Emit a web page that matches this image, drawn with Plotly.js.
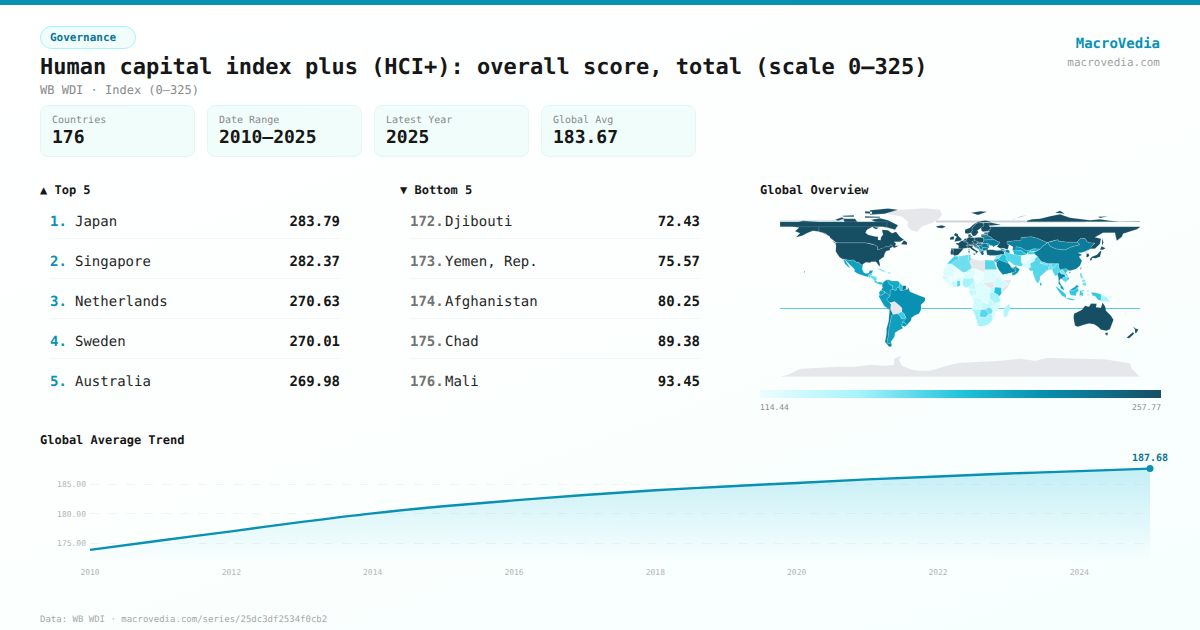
<!DOCTYPE html>
<html><head><meta charset="utf-8">
<script src="https://cdn.plot.ly/plotly-3.0.1.min.js"></script>
<style>
html,body{margin:0;padding:0}
body{width:1200px;height:630px;overflow:hidden;position:relative;font-family:'DejaVu Sans Mono',monospace;color:#171717;background:linear-gradient(160deg,#ffffff 0%,#fcfffe 50%,#f6fefe 100%);text-rendering:geometricPrecision}
.a{position:absolute;white-space:pre;line-height:1}
.card{position:absolute;top:105px;width:153px;height:50px;background:#f0fdfb;border:1px solid #e6f6f4;border-radius:8px}
.rule{position:absolute;height:1px;background:#f3f6f6}
</style></head><body>
<div class="a" style="left:0;top:0;width:1200px;height:5px;background:#0891b2"></div>
<div class="a" style="left:40px;top:26px;width:94px;height:21px;border:1px solid #a5f3fc;border-radius:12px;background:#f0fdfb"></div>
<div class="a" style="left:50px;top:32px;font-size:11px;font-weight:bold;color:#0e7490">Governance</div>
<div class="a" id="title" style="left:40px;top:57px;font-size:22px;font-weight:bold"></div>
<div class="a" id="sub" style="left:40px;top:84px;font-size:12px;color:#8a8a8a"></div>
<div class="a" style="right:40px;top:37px;font-size:14px;font-weight:bold;color:#0891b2">MacroVedia</div>
<div class="a" style="right:40px;top:57px;font-size:11px;color:#a3a3a3">macrovedia.com</div>
<div id="cards"></div>
<div class="a" style="left:40px;top:184px;font-size:12px;font-weight:bold">▲ Top 5</div>
<div class="a" style="left:400px;top:184px;font-size:12px;font-weight:bold">▼ Bottom 5</div>
<div id="rows"></div>
<div class="a" style="left:760px;top:184px;font-size:12px;font-weight:bold">Global Overview</div>
<div id="map" class="a" style="left:760px;top:200px;width:401px;height:200px"></div>
<div class="a" id="cmin" style="left:760px;top:404px;font-size:8px;color:#8a8a8a"></div>
<div class="a" id="cmax" style="right:39px;top:404px;font-size:8px;color:#8a8a8a"></div>
<div class="a" style="left:40px;top:434px;font-size:12px;font-weight:bold">Global Average Trend</div>
<div id="trend" class="a" style="left:40px;top:445px;width:1160px;height:145px"></div>
<div class="a" id="foot" style="left:40px;top:616px;font-size:9px;color:#a8a8a8"></div>
<script>
var titleText='Human capital index plus (HCI+): overall score, total (scale 0–325)';
var subText='WB WDI · Index (0–325)';
var footText='Data: WB WDI · macrovedia.com/series/25dc3df2534f0cb2';
var statLabels=['Countries','Date Range','Latest Year','Global Avg'];
var statValues=['176','2010–2025','2025','183.67'];
var topRanks=[1,2,3,4,5];
var topNames=['Japan','Singapore','Netherlands','Sweden','Australia'];
var topValues=['283.79','282.37','270.63','270.01','269.98'];
var bottomRanks=[172,173,174,175,176];
var bottomNames=['Djibouti','Yemen, Rep.','Afghanistan','Chad','Mali'];
var bottomValues=['72.43','75.57','80.25','89.38','93.45'];
var years=[2010,2011,2012,2013,2014,2015,2016,2017,2018,2019,2020,2021,2022,2023,2024,2025];
var avgValues=[173.9,175.5,177.05,178.65,180.1,181.3,182.3,183.2,184.0,184.65,185.25,185.85,186.35,186.85,187.25,187.68];
var yTicks=[175,180,185];
var xTicks=[2010,2012,2014,2016,2018,2020,2022,2024];
var colorMin=114.44,colorMax=257.77;
var colorStops=[[0,'#ecfeff'],[0.25,'#a5f3fc'],[0.5,'#22c3dd'],[0.7,'#0891b2'],[1,'#164e63']];
var noDataColor='#e5e7eb';

// Countries without a value (drawn grey)
var noDataCodes=['ATA','GRL','LBY','BOL','SSD','SOM','GUF','PRK','NCL'];
// Scores (clamped to the colour range when drawn)
var scoreCodes=['USA','CAN','RUS','AUS','NZL','JPN','KOR','TWN','GBR','IRL','ISL','FRA','DEU','ESP','PRT','ITA','NOR','SWE','FIN','DNK','NLD','BEL','CHE','AUT','POL','CZE','SVK','HUN','SVN','HRV','EST','LVA','LTU','BLR','UKR','ROU','BGR','GRC','SRB','BIH','ALB','MKD','MNE','MDA','TUR','GEO','ARM','AZE','CYP',
'KAZ','MNG','CHN','UZB','KGZ','TJK','TKM','SAU','ARE','OMN','KWT','QAT','IRN','IRQ','JOR','ISR','LBN','SYR',
'EGY','DZA','TUN','MAR','ESH','MRT','MLI','NER','TCD','SDN','ETH','ERI','DJI','YEM','SEN','GNB','GIN','SLE','LBR','CIV','BFA','GHA','TGO','BEN','NGA','CMR','CAF','GAB','COG','COD','UGA','KEN','RWA','BDI','TZA','AGO','ZMB','ZWE','MWI','MOZ','NAM','BWA','ZAF','MDG',
'AFG','PAK','IND','BGD','NPL','BTN','LKA','MMR','THA','LAO','KHM','VNM','MYS','IDN','PHL','PNG','TLS','SLB','VUT','FJI',
'MEX','GTM','BLZ','HND','SLV','NIC','CRI','PAN','CUB','HTI','DOM','JAM','COL','VEN','GUY','SUR','ECU','PER','BRA','PRY','URY','ARG','CHL'];
var scoreValues=[262,262,258,269.98,262,283.79,262,245,262,262,262,262,262,262,255,262,262,270.01,262,262,270.63,262,262,262,255,255,245,245,255,240,255,245,245,228,228,232,228,240,228,215,215,215,225,205,250,215,215,218,245,
226,226,228,210,190,175,190,222,225,210,215,222,172,185,200,240,185,160,
172,165,170,175,125,122,93.45,122,89.38,122,128,122,72.43,75.57,128,125,122,122,122,135,125,172,128,125,150,135,122,135,130,122,135,186,130,122,150,128,135,165,135,125,150,172,150,145,
80.25,125,172,165,165,160,195,172,222,160,172,185,205,182,165,150,150,130,130,172,
205,172,175,172,172,172,182,190,165,122,165,160,210,200,185,235,205,208,215,180,210,206,225];

// Country outlines: rings of lon,lat pairs
var outlines={
ATA:[[-180,-85,180,-85,178,-83,172,-77,170,-71.5,160,-70,145,-67.5,120,-67,100,-66.5,88,-66,75,-69,60,-67,40,-69,20,-70,0,-71,-10,-73,-20,-76,-30,-79,-40,-79,-48,-78,-58,-74,-61,-68,-58,-63.5,-66,-67,-66,-73,-75,-74,-90,-73,-105,-75,-120,-75,-140,-76,-160,-77,-172,-83,-180,-85]],
GRL:[[-73,78,-68,80.5,-60,82,-35,83.5,-20,82,-18,77,-22,72,-28,68.5,-38,65.5,-43,60,-48,61,-53,66,-52,70,-58,75]],
USA:[[-124.7,48.4,-123,49,-95,49,-89,48,-84.5,46.5,-82.5,45,-82.5,42,-79,43,-76,44,-75,45,-71,45,-69,47.3,-67,45,-70,43.5,-70,41.7,-74,40.5,-75.5,37.5,-76,35,-81,31.5,-80,27,-80.5,25.2,-82,27,-84,30,-89,30,-90,29,-94,29.5,-97.3,27.5,-97.2,26,-99.5,27.5,-101.5,29.8,-103,29,-105,30.7,-106.5,31.8,-108.2,31.4,-111,31.3,-114.8,32.5,-117.1,32.5,-120.5,34.5,-122.5,37.5,-124.3,40.3,-124,46],[-168,65.5,-164,67,-166,68.5,-157,71,-141,69.7,-141,60,-135,58.5,-130,55,-134,57.5,-140,60,-147,61,-152,59,-158,56,-164,54.5,-160,58.5,-165,60.5,-161,64],[-156,20.6,-155,19.6,-155.7,19]],
CAN:[[-141,69.7,-135,69,-125,70,-115,68,-108,68,-95,68.5,-90,69,-85,69.5,-82,68,-87,65,-93,62,-94.5,59,-92,57,-85,55.3,-82,55,-82,52,-79.5,51.5,-79,54.5,-77,57,-78,62,-72,61.5,-68,58.5,-64,60,-60,55,-56,52,-60,50,-66,50,-64,48,-65,46,-61,46,-66,43.8,-67,45,-69,47.3,-71,45,-75,45,-76,44,-79,43,-82.5,42,-82.5,45,-84.5,46.5,-89,48,-95,49,-123,49,-125,50,-130,54,-130,55,-135,58.5,-141,60],[-80,73.5,-72,71.5,-62,66.5,-65,62,-72,64,-78,65,-73,68,-85,70,-89,72],[-117,73,-105,73,-102,69,-115,69],[-90,77,-75,78,-62,82,-72,83.2,-90,81.5],[-95,75.5,-80,75,-80,74,-95,74],[-125,72,-118,74.5,-116,73,-122,71],[-118,76,-106,76.5,-106,75,-116,75],[-95,80.5,-88,80,-88,78,-95,78.5],[-59,47.5,-53,47,-53,49.5,-56,51.5],[-87,65,-81,64,-84,62.5,-87,64],[-128,50.8,-124,49,-125,48.5]],
MEX:[[-117.1,32.5,-114.8,32.5,-111,31.3,-108.2,31.4,-106.5,31.8,-105,30.7,-103,29,-101.5,29.8,-99.5,27.5,-97.2,26,-97.8,22.5,-96,19,-94,18.2,-91,18.7,-90.5,21,-87,21.5,-88,18.5,-89,17.9,-91,17.2,-92.2,14.6,-96,15.8,-101,17.5,-105.5,20,-105.5,22.5,-109,25.8,-112.5,29.5,-114.5,31.5],[-117,32.5,-114.8,31.5,-112,27,-109.5,23,-112,25,-115,28,-116,30.5]],
GTM:[[-92.2,14.6,-91,17.2,-89,17.9,-89,15.9,-90,13.8]],BLZ:[[-89,17.9,-88,18.5,-88.3,16,-89,15.9]],HND:[[-89,15.9,-88,15.8,-83.2,15,-85,14,-87.5,13,-89.2,14.3]],SLV:[[-90,13.8,-89.2,14.3,-87.7,13.5,-88,13.1]],NIC:[[-87.5,13,-85,14,-83.2,15,-83.7,11,-85.7,11]],CRI:[[-85.7,11,-83.7,11,-82.6,9.5,-83,8.3,-85.7,10]],PAN:[[-83,8.3,-82.6,9.5,-79.5,9.6,-77.3,8.6,-77.9,7.3,-80,7.3]],
CUB:[[-85,22,-80,23.2,-74.2,20.2,-77.7,19.9,-78,21,-82,22.5]],HTI:[[-74.4,18.4,-72.8,19.9,-71.7,19.7,-71.7,18]],DOM:[[-71.7,19.7,-68.5,18.6,-71.7,18]],JAM:[[-78.3,18.3,-76.3,18,-77,17.8]],
COL:[[-77.3,8.6,-75,11,-72,12.2,-72,9.5,-70,7,-67.5,6,-67,2,-69.8,1.7,-69.8,-4.2,-72,-2.3,-75,-0.2,-78.8,1.4,-77.5,4,-77.9,7.3]],
VEN:[[-72,12.2,-68,10.7,-62,10.7,-60,8.5,-61,5,-60.8,4.5,-62.7,4,-64,1.3,-67,2,-67.5,6,-70,7,-72,9.5]],
GUY:[[-60,8.5,-57.2,6,-58,1.3,-59.8,1.3,-60.8,4.5,-61,5]],SUR:[[-57.2,6,-54,5.9,-54.2,2.3,-56,2,-58,1.3]],GUF:[[-54,5.9,-51.6,4.2,-52.7,2.3,-54.2,2.3]],
ECU:[[-78.8,1.4,-75,-0.2,-75.5,-1.5,-78.3,-3.5,-80.3,-3.4,-81,-1,-80,0.8]],
PER:[[-80.3,-3.4,-78.3,-3.5,-75.5,-1.5,-75,-0.2,-72,-2.3,-69.9,-4.2,-73.2,-7.5,-70.6,-11,-69,-12.5,-69.5,-17.5,-70.4,-18.3,-76,-14,-79.5,-7.5,-81.3,-4.5]],
BOL:[[-69,-10.9,-65.3,-9.8,-60.5,-13.7,-58,-16.3,-58,-20,-62.7,-22,-67,-22.9,-69.5,-17.5,-69,-12.5]],
BRA:[[-51.6,4.2,-50,0,-44,-2.5,-37,-4.9,-35,-6,-35,-9,-39,-13,-39,-18,-41,-22,-45,-23.6,-48.5,-26,-48.8,-28.5,-53.4,-33.7,-55,-31,-57.6,-30.2,-53.7,-26.8,-54.5,-25.5,-55.7,-22.3,-58,-20,-58,-16.3,-60.5,-13.7,-65.3,-9.8,-69,-10.9,-70.6,-11,-73.2,-7.5,-69.9,-4.2,-69.8,1.7,-67,2,-64,1.3,-62.7,4,-60.8,4.5,-59.8,1.3,-58,1.3,-56,2,-54.2,2.3,-52.7,2.3]],
PRY:[[-58,-20,-55.7,-22.3,-54.5,-25.5,-56,-27.3,-58.6,-27.2,-60,-24,-62.7,-22]],URY:[[-57.6,-30.2,-55,-31,-53.4,-33.7,-55,-35,-58.4,-34]],
ARG:[[-67,-22.9,-62.7,-22,-60,-24,-58.6,-27.2,-56,-27.3,-54.5,-25.5,-53.7,-26.8,-57.6,-30.2,-58.4,-34,-57,-36.5,-62,-39,-65,-41,-65.5,-45,-69,-50,-68.3,-52.3,-72,-52,-73,-50,-71.7,-44,-71,-36,-69.8,-30,-68.5,-24]],
CHL:[[-69.5,-17.5,-67,-22.9,-68.5,-24,-69.8,-30,-71,-36,-71.7,-44,-73,-50,-72,-52,-68.3,-52.3,-68.5,-54.9,-71,-55,-75,-50,-73.5,-42,-73.5,-37,-71.5,-30,-70.4,-18.3]],
ISL:[[-24,65.5,-18,66.5,-14,65,-18,63.4,-22.5,64]],GBR:[[-5.5,50,1.3,51.2,1.7,52.8,-1,54.6,-2,56,-2,57.6,-5,58.6,-6,56.5,-3,54.8,-4.5,53.3,-5,51.7]],IRL:[[-10,52,-6.2,52.2,-6,54,-6,55.2,-8,55.2,-10,54]],
NOR:[[5,58.5,8,58,11,59,12.3,61,12,63.5,14,65.5,16,68,19,69,25,69,29,69.7,31,70.3,25,71.2,18,70,13,67,10,64,5,62],[11,79,20,80.5,27,80,18,76.7]],
SWE:[[11,59,13,55.4,16,56.2,18.5,59.7,17.2,61,21,64,24,66,23.5,68.5,19,69,16,68,14,65.5,12,63.5,12.3,61]],FIN:[[24,66,21,64,21.5,61,23,60,27.5,60.5,31,63,29,66,29,69,25,69,23.5,68.5]],DNK:[[8.2,57,10.5,57.7,10.8,56,12.5,55.6,12,54.7,9.5,54.8,8.3,55]],
NLD:[[3.5,51.4,4.8,53,7,53.3,6,51]],BEL:[[2.6,51,3.5,51.4,6,51,6,49.6,4.5,49.9]],FRA:[[-4.7,48.4,-1.5,48.7,1.6,50.9,2.6,51,4.5,49.9,6,49.6,8.2,49,7.5,47.5,6.2,46.3,7,45.9,7.5,43.8,3,43.3,3.2,42.4,-1.7,43.3,-1.2,46],[8.6,42.9,9.5,42.9,9.2,41.4,8.7,41.6]],
ESP:[[-9,43.2,-1.7,43.3,3.2,42.4,0,39,-0.5,38,-2,36.8,-5.5,36,-7,37.2,-7,39.6,-6.5,42,-9,42]],PRT:[[-9,42,-6.5,42,-7,39.6,-7,37.2,-9,37,-9.5,39]],
DEU:[[6,51,7,53.3,9,54.8,12,54.2,14.2,53.9,14.8,51,12.2,50.3,13.8,48.7,13,47.5,7.5,47.5,8.2,49,6,49.6]],CHE:[[6.2,46.3,7.5,47.5,9.6,47.5,10.4,46.6,8.5,46,7,45.9]],AUT:[[9.6,47.5,13,47.5,13.8,48.7,17,48.7,16.5,46.9,13.7,46.5,10.4,46.6]],
ITA:[[7,45.9,8.5,46,10.4,46.6,13.7,46.5,12.3,45,12.5,44,16,41.5,18.5,40,16.8,39,16,38,15.7,40,12,42,10,44,7.5,43.8],[12.5,38,15.5,38.2,15,36.7],[8.3,41,9.7,41,9.5,39,8.5,39]],
POL:[[14.2,53.9,19,54.4,23.5,54,24,50.5,22.5,49.2,19,49.4,14.8,51]],CZE:[[12.2,50.3,14.8,51,18.8,49.6,17,48.7,13.8,48.7]],SVK:[[17,48.7,18.8,49.5,22.5,49.2,22,48.4,18,47.8]],HUN:[[16.5,46.9,17,48,18,47.8,22,48.4,22.8,47.9,21,46.2,18.8,45.9]],SVN:[[13.7,46.5,16.5,46.9,15.5,45.5,13.7,45.5]],HRV:[[13.7,45.5,15.5,45.5,16.5,46.9,18.8,45.9,19,45,16,45.2,18.5,42.5,15,44.5]],BIH:[[16,45.2,19,45,19.4,43.5,18.5,42.5]],SRB:[[19,46,21,46.2,22.7,44.3,22.5,42.3,20.5,42.3,19.4,43.5,19,45]],MNE:[[18.5,42.5,19.4,43.5,20.5,42.7,19.3,41.9]],ALB:[[19.3,41.9,20.5,42.3,21,40.5,20,39.7,19.4,40.5]],MKD:[[20.5,42.3,22.5,42.3,23,41.3,21,41]],GRC:[[20,39.7,21,40.5,23,41.3,26.3,41.5,23,40,24,38,23,36.5,21.5,37],[23.5,35.5,26.3,35.2,24.5,35]],BGR:[[22.5,42.3,22.7,44.3,28,43.7,28,42,26.3,41.5,23,41.3]],ROU:[[21,46.2,22.8,48,26.5,48.2,28.2,45.5,29.7,45,28.5,43.7,22.7,44.3]],MDA:[[26.5,48.2,29,47.8,30,46.5,28.2,45.5]],
UKR:[[22.5,49.2,24,50.5,24,51.7,31,52,34,52.2,38,49.9,40,49.5,38,47,35,46,33.5,44.5,32.5,46,30,46.5,29,47.8,26.5,48.2,22.8,48]],BLR:[[24,50.5,23.5,54,26,55.7,28,56,31,54.5,32.5,53,31,52,24,51.7]],LVA:[[21,56,21.5,57.5,24.5,57.3,27.5,57.5,28,56,26,55.7]],LTU:[[21,55.3,21,56,26,55.7,26,54,23.5,54]],EST:[[23.5,59,28,59.4,27.5,57.6,24.5,57.9]],
TUR:[[26.3,41.5,28,42,33,42,36,41.3,41.5,41.5,43.7,40.5,44.7,37.2,42,37.2,36,36.2,30,36.2,27,37,26.3,39.5]],GEO:[[40,43.4,46,41.8,43.7,41,41.5,41.5]],ARM:[[43.7,41,45,41,46.5,39,44.7,39.7]],AZE:[[45,41,46,41.8,48.5,41.8,50,40.3,49,38.4,46.5,39]],CYP:[[32.5,35,34.5,35.6,33.5,34.7]],
RUS:[[29,65,180,65,180,64.5,177,62.5,170,60,163,58,162,55,156.8,51,155.5,56,155,59,143,59,135,54.5,141,53,140,48,135,43,131,43,131,45,135,48.5,130.5,48.8,127,50,125,53.3,120,53,117,49.5,108,49.5,98.7,50.5,98,52,92,50.8,87,49.2,83,51,77,53.5,71,55,61,54,61,51,55,51,47,50,47,48,49,46.5,47.5,42,44,43.5,40,43.4,37,45,38,47,40,49.5,38,49.9,34,52.2,31,52,32.5,53,31,54.5,28,56,27.5,57.5,28,59.4,30,60,27.5,60.5,31,63],[29,66,29,69.5,41,67,33,66],[142,54,143.5,49,142,46,142,50],[52,71,56,73.5,68,77,60,75,54,72.5],[95,79,105,78,100,81],[138,75,148,75.5,140,73.7],
 [67,70,67,71,72,72.5,80,73,90,75.5,100,77.5,110,74,120,73,130,71.5,140,72.5,150,71,160,70.3,170,70.5,180,70.5,180,70],
 [-180,65,-73,65,-73,70,-180,70]],
KAZ:[[47,48,47,50,55,51,61,51,61,54,71,55,77,53.5,83,51,87,49.2,85,47,82.5,45.5,80,42.5,74,43,70,41.5,66,41,61,44,56,45,56,41.3,52.5,41.7,53,45,49,46.5]],
UZB:[[56,45,61,44,66,41,70,41.5,71,40.5,67.5,39.5,67,37.3,64.5,38.8,61,41.2,56,41.3]],TKM:[[52.5,41.7,56,41.3,61,41.2,64.5,38.8,67,37.3,61,36,54,37.3,53.8,39]],KGZ:[[70,41.5,74,43,80,42.5,76,40.3,71,40.5]],TJK:[[67.5,39.5,71,40.5,74,39.5,75,37.3,71.5,37,67.8,37.2]],
MNG:[[87.8,49.2,98,52,98.7,50.5,108,49.5,117,49.5,120,47,112,45,105,41.7,96,42.7,90,45.5]],
CHN:[[73.7,39.5,76,40.3,80,42.5,82.5,45.5,85,47,87.8,49.2,90,45.5,96,42.7,105,41.7,112,45,120,47,117,49.5,120,53,125,53.3,127,50,130.5,48.8,135,48.5,131,45,131,43,128,41.5,124.3,40,121,39,118,39,122,37,119,35,122,31,120,26,116,22.7,110,21,108,21.5,106,23,102,22.5,101,21.2,98.7,24,98.5,28,92,28,88,28,81,30.3,79,33,74.8,37],[109,19.5,110.8,20,110,18.2]],
PRK:[[124.3,40,128,41.5,130.5,42.3,127.5,39.5,128.3,38.5,125,37.8]],KOR:[[126.5,37.7,128.3,38.5,129.4,36,127.5,34.5,126.3,34.7]],
JPN:[[130,31.3,131.8,31.5,132,33.7,135.7,33.5,140,35,141,38,141.5,41,140,40.5,137,37,132.5,35.3,130.3,33.5],[140,42,141.5,45.5,145.5,43.4,143,42]],TWN:[[120.2,23,121.5,25.2,121,22]],
SAU:[[36.5,29.3,39,32,42,31.2,46.5,29,48.4,28.5,50,26.5,51.6,24,55,22.7,55.6,20,52,19,48.5,18,44.5,17.4,43,16.8,42,18,39,21.5,36.7,26]],YEM:[[43,16.8,44.5,17.4,48.5,18,52,19,52.2,16,45,12.8,43.4,12.7]],OMN:[[52,19,55.6,20,55,22.7,56.3,24.7,59.8,22.5,57.7,18.9,55,17,52.2,16]],ARE:[[51.6,24,55,22.7,56.3,24.7,56.4,26,54,24.2]],QAT:[[51,24.6,51.6,25.8,50.8,26]],KWT:[[47.7,28.5,48.4,28.5,48,30,46.7,29.1]],
IRQ:[[38.8,33.4,42,37.2,44.7,37.2,46,35.5,46,33,48.5,30,48,30,46.5,29,42,31.2,39,32]],IRN:[[44.7,39.7,46.5,39,49,38.4,54,37.3,61,36,61,31.5,63,27,61.6,25.1,57,26,54,26.6,50,30,48.5,30,46,33,46,35.5,44.7,37.2]],SYR:[[36,36.2,42,37.2,38.8,33.4,36,32.5,35.8,35]],JOR:[[35,29.5,36.5,29.3,39,32,38.8,33.4,36,32.5,35.5,32]],ISR:[[34.3,31.3,35,29.5,35.5,32,35.6,33.2,35,33]],LBN:[[35.1,33.1,35.7,33.2,36.5,34.6,36,34.6]],
AFG:[[61,36,67,37.3,71.5,37,75,37.3,71,34.5,70,33.5,69,31.5,66.5,29.5,61,29.5,61,31.5]],PAK:[[61,29.5,66.5,29.5,69,31.5,70,33.5,71,34.5,75,37.3,77.5,35.5,74.5,32.5,75,31,70,28,71,24.5,67.5,23.8,61.6,25.1,63,27]],
IND:[[77.5,35.5,79,33,81,30.3,80,28.7,88,26.4,88,28,92,28,97,28,94,24,92.2,23.5,92,25.2,89.8,26,88.5,24,89,21.8,87,21.3,82,16.5,80,15,80,12,78,8.2,76,10.5,73,18,72.8,21,70,21,68.5,23.5,71,24.5,70,28,75,31,74.5,32.5]],NPL:[[80,28.7,81,30.3,88,28,88,26.4]],BTN:[[89,27.3,92,28,92,26.8]],BGD:[[88.5,24,89.8,26,92,25.2,92.4,21,91,22.5,89,21.8]],LKA:[[80,9.8,81.8,7.5,81,6,80,6.5]],
MMR:[[92.4,21,92.2,23.5,94,24,97,28,98.5,28,98.7,24,101,21.2,100,20,97.5,18,98.5,14,98.7,10,97.7,16.5,95,15.8,94,18,92.4,20.7]],THA:[[97.5,18,100,20,101,17.7,104.5,17.5,105.6,15,102.8,14,102.5,12,100.9,13.4,99.5,11,100,8.5,102,6.3,100,6.5,98.4,8,98.7,10,98.5,14]],LAO:[[100.5,20.5,102,22.4,105,19,107.5,15,105.6,15,104.5,17.5,101,17.7]],KHM:[[102.5,12,102.8,14,105.6,15,107.5,14,106.5,10.5,104,10.5]],VNM:[[102,22.4,106,23,108,21.5,106,19,109.3,13,107,10.5,105,8.7,104.8,10.3,106.5,10.5,107.5,14,107.5,15,105,19]],
MYS:[[100,6.5,102,6.3,103.4,4,104.2,1.4,101,3],[109.5,1.5,111.5,2.7,115,5,117,7,119,5,117.5,4.2,115.5,3,114,1.4,111,1]],
IDN:[[95.3,5.6,98,4.2,104,-1,106,-3,106,-6,102,-4,98.5,0.5],[105.5,-6.5,110,-6.5,114.5,-7.7,114.5,-8.7,108,-7.8],[109.5,1.5,111,1,114,1.4,115.5,3,117.5,4.2,118.8,1,116.5,-1,116,-4,111,-3.5,109.5,-1],[120,0.9,125,1.5,121,-0.5,123,-1,122.8,-4.5,120.5,-3,120.5,-5.5,119.5,-3.5],[131,-0.8,134.5,-0.7,141,-2.6,141,-9.1,138,-8,135,-4.3,132.8,-4],[116,-8.3,123,-8.3,123,-9,116,-9],[127.5,2,128.5,1,128,-1],[127,-3,130,-3,128,-3.8],[123.5,-9.9,125,-8.9,125,-9.4]],
PHL:[[120,18.5,122,18.5,122,16,124,13,121,13.8,120,16],[122,8,125.5,9.8,126.5,7,125,5.7,122.5,7],[122,11.5,125.5,12.5,125,10,122.5,9.8]],
PNG:[[141,-2.6,145,-4.3,147.5,-6,148,-8,150.8,-10.3,147,-9.7,143.5,-9,141,-9.1],[148.5,-5.5,152,-4.5,151,-6.2]],TLS:[[125,-8.7,127,-8.4,125,-9.4]],SLB:[[157,-7.5,161,-9.5,160,-10]],VUT:[[167,-15,168,-16.5,167.2,-15.8]],FJI:[[177.5,-17.5,179,-17,178,-18.3]],NCL:[[164,-20,167,-22,165.5,-22]],
AUS:[[114,-22,113.5,-26,115,-34,118,-35,124,-33,129,-31.7,134,-32.5,138,-35,141,-38,146.5,-39,150,-37.5,153.5,-28,151,-24,146,-19,145.3,-15,142.5,-10.8,141,-16,136,-15.5,136.7,-12,131,-11.8,129,-15,125,-14,122,-18,116,-20.8],[145,-41,148,-41,147.5,-43.5,146,-43.5]],
NZL:[[173,-34.5,175.5,-36.8,178.5,-37.7,176.5,-41,175,-41.5,175,-38],[172.7,-40.5,174.3,-41.7,171,-45,169,-46.6,166.5,-46,170,-43]],
MAR:[[-5.5,35.8,-2,35.1,-1.2,32.5,-5,31,-8.7,28,-13,27.7,-9.8,31.4,-6.9,34]],ESH:[[-13,27.7,-8.7,27.7,-8.7,27.3,-12,26,-13,23,-17,21,-15,24]],
DZA:[[-2,35.1,8.6,37,8.3,33,9.5,30,12,23.5,5.8,19.4,3.3,19,-4.8,25,-8.7,27.3,-8.7,28,-5,31,-1.2,32.5]],TUN:[[8.6,37,11,37,10.2,34,11.5,33,9.5,30,8.3,33]],LBY:[[11.5,33,15,32.3,20,31,25,31.7,25,20,24,19.5,15,23,12,23.5,9.5,30]],EGY:[[25,31.7,34.3,31.3,35,28,37,22,25,22]],
MRT:[[-17,21,-13,23,-12,26,-8.7,27.3,-4.8,25,-5.5,15.5,-12,14.8,-16.5,16.2]],MLI:[[-12,14.8,-5.5,15.5,-4.8,25,3.3,19,4.2,15,0.2,14.8,-3,13.5,-5.5,10.4,-8.3,10.5,-11.4,12.2]],NER:[[0.2,14.8,4.2,15,3.3,19,5.8,19.4,12,23.5,15,23,15.5,16.9,13.6,13.7,8,13,4,12,3,11.7]],TCD:[[15,23,24,19.5,24,15.7,22,11,18.9,9,15.5,7.5,13.6,13.7,15.5,16.9]],
SDN:[[24,19.5,25,22,37,22,38.5,18,36.5,14.3,34,10,27,9.5,24,9,22,11,24,15.7]],ERI:[[36.5,14.3,38.5,18,43,12.7,41,14.5]],ETH:[[36.5,14.3,41,14.5,43,11.5,48,8,44,4.9,41,4,36,4.5,33,8,34,10]],DJI:[[42,12.7,43.3,12.5,43.2,11,42,11]],SOM:[[43,11.5,51,11.9,48,4.5,41.5,-1.7,41,4,44,4.9,48,8]],SSD:[[24,9,27,9.5,34,10,33,8,36,4.5,30,3.5,27,5,23,9]],
SEN:[[-17.4,14.7,-16.5,16.2,-12,14.8,-11.4,12.4,-16.7,12.4]],GNB:[[-16.7,12.4,-13.7,12.4,-15,11]],GIN:[[-15,11,-13.7,12.4,-11.4,12.2,-8.3,10.5,-8,8.5,-10.7,9.3,-13.2,9]],SLE:[[-13.2,9,-10.7,9.3,-11,7,-12.9,7.7]],LBR:[[-11,7,-10.7,9.3,-8,8.5,-7.5,4.4]],CIV:[[-8,8.5,-8.3,10.5,-5.5,10.4,-2.8,9.7,-3,5,-7.5,4.4]],BFA:[[-5.5,10.4,-3,13.5,0.2,14.8,2.5,12,0,11,-2.8,11,-2.8,9.7]],GHA:[[-2.8,9.7,-2.8,11,0,11,0.5,6,-3,5]],TGO:[[0,11,1,11,1.6,6.2,0.5,6]],BEN:[[1,11,3,11.7,2.7,6.3,1.6,6.2]],
NGA:[[3,11.7,4,13.5,8,13,13.6,13.7,14,11.5,11.3,7,8.5,4.7,5.5,4.3,2.7,6.3]],CMR:[[8.5,4.7,11.3,7,14,11.5,13.6,13.7,15.5,7.5,15,3,16,2,9.8,2.3]],CAF:[[15.5,7.5,18.9,9,22,11,23,9,27,5,19,3.5,16,2,15,3]],GAB:[[9.8,2.3,13.3,2.2,14.5,-2.3,11,-3.9,8.8,-0.7]],COG:[[13.3,2.2,16,2,18,3.5,17,-1,16,-3.7,12,-5,11,-3.9,14.5,-2.3]],
COD:[[18,3.5,19,3.5,27,5,30,3.5,31,2,29.5,-1.5,29,-3,29.5,-8,30.5,-8.2,28.5,-9,28.5,-12.2,24,-11,22,-11,22,-7,16.7,-6,12.3,-6,16,-3.7,17,-1]],UGA:[[30,3.5,35,4.5,34.5,1,34,-1,29.7,-1.3,31,2]],KEN:[[34,-1,34.5,1,35,4.5,36,4.5,41,4,41.5,-1.7,39.2,-4.7,37.6,-3]],RWA:[[29,-1.4,30.5,-1.2,30.5,-2.5,29,-2.7]],BDI:[[29,-2.7,30.5,-2.5,30,-4.3,29.3,-4.4]],TZA:[[30,-1,34,-1,37.6,-3,39.2,-4.7,40.4,-10.4,34.9,-11.5,32.5,-9.4,30.5,-8.2,29.5,-6]],
AGO:[[12.3,-6,16.7,-6,22,-7,22,-11,24,-11,24,-18,21,-18,12,-17.3,13.8,-11]],ZMB:[[22,-11,24,-11,28.5,-12.2,28.5,-9,30.5,-8.2,32.5,-9.4,33,-14,30.3,-15.5,28,-16,25.2,-17.8,22,-16.5]],MWI:[[32.7,-9.5,34.9,-11.5,35.3,-16.5,33,-14]],MOZ:[[40.4,-10.4,40.7,-15,35,-20,35.5,-24,32.8,-26,32,-24,33,-19,30.3,-15.5,33,-14,35.3,-16.5,34.9,-11.5]],ZWE:[[25.2,-17.8,28,-16,30.3,-15.5,33,-19,31.3,-22.4,29,-22.2]],BWA:[[21,-18,25.2,-17.8,29,-22.2,25.5,-25.7,20,-25,20,-22]],NAM:[[12,-17.3,21,-18,21,-22,20,-28.3,16.5,-28.6,14.5,-22]],ZAF:[[16.5,-28.6,20,-28.3,20,-25,25.5,-25.7,29,-22.2,31.3,-22.4,32.8,-26,32.5,-28.5,28,-33,25,-34,20,-34.8,18.3,-34]],MDG:[[49.3,-12,50.4,-15.5,47,-25,44,-25,43.5,-21,44.5,-16]]
};
// Stray fills from rings that cross the date line
var stripeCodes=['GRY1','GRY2','FJI'];
var stripeLats=[70.2,71.3,-16.8];
var stripeLonStart=[-24,-180,-180];
var stripeLonEnd=[125,-110,180];
var stripeWidths=[2,1,1];
var stripeColors=['#cfd4d8','#dfe3e6','#5cc9e2'];

document.getElementById('title').textContent=titleText;
document.getElementById('sub').textContent=subText;
document.getElementById('foot').textContent=footText;
document.getElementById('cmin').textContent=colorMin.toFixed(2);
document.getElementById('cmax').textContent=colorMax.toFixed(2);
var h='';
statLabels.forEach(function(l,i){var x=40+167*i;
 h+='<div class="card" style="left:'+x+'px"></div><div class="a" style="left:'+(x+12)+'px;top:116px;font-size:10px;color:#8a8a8a">'+l+'</div><div class="a" style="left:'+(x+12)+'px;top:129px;font-size:18px;font-weight:bold">'+statValues[i]+'</div>';});
document.getElementById('cards').innerHTML=h;
function rows(r,n,v,x0,color){var s='';r.forEach(function(k,i){var y=215+40*i;
 s+='<div class="a" style="left:'+x0+'px;top:'+y+'px;font-size:14px;font-weight:bold;color:'+color+'">'+k+'.</div>'
 +'<div class="a" style="left:'+(x0+(k>99?35:25))+'px;top:'+y+'px;font-size:14px;color:#262626">'+n[i]+'</div>'
 +'<div class="a" style="right:'+(1200-x0-290)+'px;top:'+y+'px;font-size:14px;font-weight:bold">'+v[i]+'</div>'
 +(i<r.length-1?'<div class="rule" style="left:'+x0+'px;top:'+(y+23)+'px;width:290px"></div>':'');});return s;}
document.getElementById('rows').innerHTML=rows(topRanks,topNames,topValues,50,'#0891b2')+rows(bottomRanks,bottomNames,bottomValues,410,'#737373');

function hexRgb(c){return [1,3,5].map(function(i){return parseInt(c.substr(i,2),16)});}
function colorFor(v){var f=Math.max(0,Math.min(1,(v-colorMin)/(colorMax-colorMin)));
 for(var i=1;i<colorStops.length;i++){if(f<=colorStops[i][0]){var a=colorStops[i-1],b=colorStops[i],t=(f-a[0])/(b[0]-a[0]),A=hexRgb(a[1]),B=hexRgb(b[1]);
  return 'rgb('+A.map(function(p,k){return Math.round(p+(B[k]-p)*t)}).join(',')+')';}}
 return colorStops[colorStops.length-1][1];}
function countryTrace(code,color){var x=[],y=[];(outlines[code]||[]).forEach(function(r){for(var i=0;i<r.length;i+=2){x.push(r[i]);y.push(r[i+1]);}x.push(r[0]);y.push(r[1]);x.push(null);y.push(null);});
 return {type:'scatter',mode:'lines',x:x,y:y,fill:'toself',fillcolor:color,line:{color:'rgba(255,255,255,0.38)',width:0.4},hoverinfo:'skip'};}
var mapTraces=[];
stripeCodes.forEach(function(c,i){mapTraces.push({type:'scatter',mode:'lines',x:[stripeLonStart[i],stripeLonEnd[i]],y:[stripeLats[i],stripeLats[i]],line:{color:stripeColors[i],width:stripeWidths[i]},hoverinfo:'skip'});});
noDataCodes.forEach(function(c){mapTraces.push(countryTrace(c,noDataColor));});
scoreCodes.forEach(function(c,i){mapTraces.push(countryTrace(c,colorFor(scoreValues[i])));});
mapTraces.push({type:'scatter',mode:'markers',x:[0],y:[0],hoverinfo:'skip',marker:{size:1,opacity:0,color:[colorMin],cmin:colorMin,cmax:colorMax,colorscale:colorStops,showscale:true,
 colorbar:{orientation:'h',len:401,lenmode:'pixels',thickness:8,thicknessmode:'pixels',x:-20/360,xanchor:'left',y:-10/180,yanchor:'top',xpad:0,ypad:0,outlinewidth:0,showticklabels:false,ticks:''}}});
Plotly.newPlot('map',mapTraces,{width:401,height:200,margin:{l:20,r:21,t:0,b:20,autoexpand:false},paper_bgcolor:'rgba(0,0,0,0)',plot_bgcolor:'rgba(0,0,0,0)',showlegend:false,
 xaxis:{range:[-180,180],visible:false},yaxis:{range:[-88.3,91.7],visible:false}},{staticPlot:true});

Plotly.newPlot('trend',[
 {type:'scatter',mode:'lines',x:years,y:avgValues,line:{color:'#0891b2',width:2.4,shape:'spline',smoothing:1},fill:'tozeroy',
  fillgradient:{type:'vertical',start:171.85,stop:187.68,colorscale:[[0,'rgba(8,182,212,0)'],[1,'rgba(8,182,212,0.22)']]}},
 {type:'scatter',mode:'markers+text',x:years.slice(-1),y:avgValues.slice(-1),text:[avgValues[avgValues.length-1].toFixed(2)],textposition:'top center',
  textfont:{family:'DejaVu Sans Mono',size:10,color:'#0e7490',weight:'bold'},marker:{color:'#0891b2',size:7},cliponaxis:false}
],{width:1160,height:145,margin:{l:50,r:50,t:22,b:28,autoexpand:false},paper_bgcolor:'rgba(0,0,0,0)',plot_bgcolor:'rgba(0,0,0,0)',showlegend:false,
 font:{family:'DejaVu Sans Mono',size:8,color:'#b4b4b4'},
 xaxis:{range:[2010,2025],tickvals:xTicks,showgrid:false,zeroline:false,showline:false,ticks:'',ticklabelstandoff:4},
 yaxis:{range:[171.85,187.95],tickvals:yTicks,ticktext:yTicks.map(function(v){return v.toFixed(2)}),gridcolor:'#f0f4f4',griddash:'dash',zeroline:false,showline:false,ticks:'',ticklabelstandoff:3}},{staticPlot:true});
</script></body></html>
